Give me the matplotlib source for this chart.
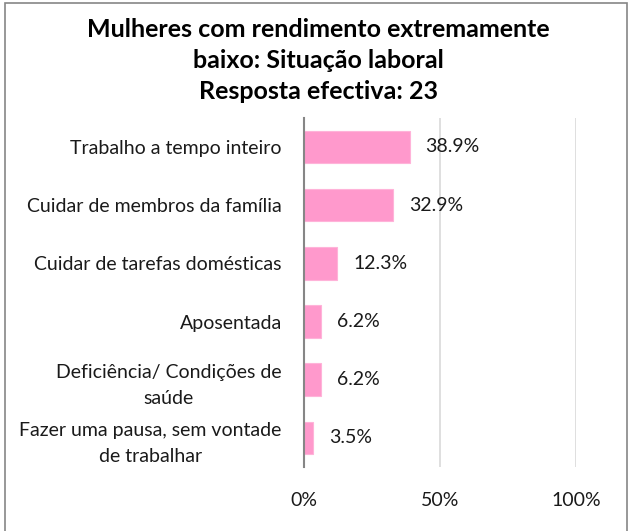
import matplotlib.pyplot as plt
from matplotlib.patches import Rectangle

categorias = [
    'Trabalho a tempo inteiro',
    'Cuidar de membros da família',
    'Cuidar de tarefas domésticas',
    'Aposentada',
    'Deficiência/ Condições de\nsaúde',
    'Fazer uma pausa, sem vontade\nde trabalhar',
]
valores = [38.9, 32.9, 12.3, 6.2, 6.2, 3.5]
ticks_x = [0, 50, 100]
ticks_x_labels = ['0%', '50%', '100%']

plt.rcParams['font.family'] = ['Lato', 'DejaVu Sans']
plt.rcParams['font.size'] = 14

fig = plt.figure(figsize=(6.3, 5.31), dpi=100)
ax = fig.add_axes([0.4825, 0.1205, 0.4317, 0.6575])

y = list(range(len(categorias)))
ax.barh(y, valores, height=0.56, color='#FF99CC', edgecolor='#FFB3D9', linewidth=0.8, zorder=3)
for yi, v in zip(y, valores):
    ax.text(v + 5.8, yi, f'{v:.1f}%', va='center', ha='left', fontsize=14, color='#1a1a1a')

ax.set_ylim(len(categorias) - 0.5, -0.5)
ax.set_xlim(0, 100)
ax.set_yticks(y)
ax.set_yticklabels(categorias, multialignment='center', color='#1a1a1a', linespacing=1.6)
ax.set_xticks(ticks_x)
ax.set_xticklabels(ticks_x_labels, color='#1a1a1a')
ax.tick_params(axis='y', length=0, pad=16)
ax.tick_params(axis='x', length=0, pad=18)
ax.grid(axis='x', color='#D9D9D9', linewidth=1.2, zorder=0)
for s in ['top', 'right', 'bottom']:
    ax.spines[s].set_visible(False)
ax.spines['left'].set_color('#868686')
ax.spines['left'].set_linewidth(1.5)
ax.spines['left'].set_zorder(4)

fig.text(0.505, 0.966, 'Mulheres com rendimento extremamente\nbaixo: Situação laboral\nResposta efectiva: 23',
         ha='center', va='top', fontsize=18, fontweight='bold', linespacing=1.42)

fig.patches.append(Rectangle((5 / 630, -0.01), 622 / 630, 1 - 3 / 531 + 0.01, transform=fig.transFigure,
                             fill=False, edgecolor='#868686', linewidth=1.2))

fig.savefig('out.png', dpi=100)
